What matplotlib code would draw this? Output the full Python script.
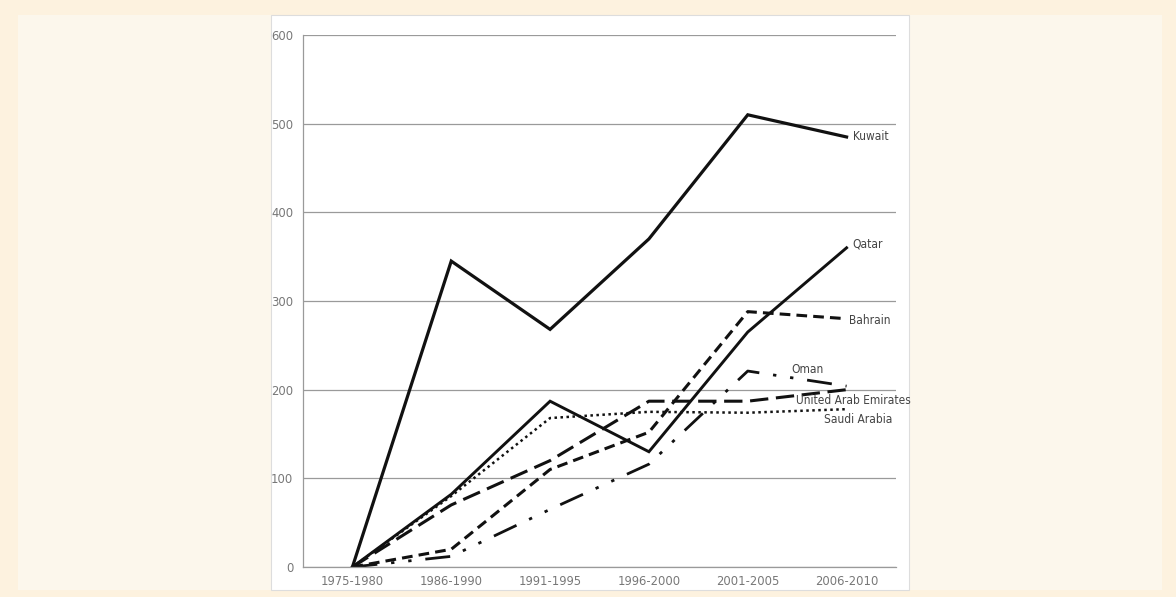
import matplotlib.pyplot as plt
from matplotlib.patches import Rectangle

# data
periods = ["1975-1980", "1986-1990", "1991-1995", "1996-2000", "2001-2005", "2006-2010"]
kuwait = [0, 345, 268, 370, 510, 485]
qatar = [0, 82, 187, 130, 265, 360]
bahrain = [0, 20, 110, 152, 288, 280]
oman = [0, 12, 65, 116, 221, 204]
uae = [0, 70, 120, 187, 187, 200]
saudi = [0, 80, 168, 175, 174, 178]

W, H = 1176, 597
fig = plt.figure(figsize=(W / 100, H / 100), dpi=100)
fig.patch.set_facecolor("#fdf2df")

# background panels (inner cream and white card)
fig.patches.append(Rectangle((18 / W, 7 / H), 1144 / W, 575 / H, transform=fig.transFigure,
                             facecolor="#fcf7ec", edgecolor="none", zorder=-2))
fig.patches.append(Rectangle((271 / W, 7 / H), 638 / W, 575 / H, transform=fig.transFigure,
                             facecolor="white", edgecolor="#dddddd", lw=0.8, zorder=-1))

ax = fig.add_axes([303 / W, 30 / H, 593 / W, 532 / H])
ax.set_facecolor("none")
ax.set_zorder(2)

fnt = dict(family="DejaVu Sans", stretch="condensed")
x = list(range(len(periods)))
black = "#111111"

ax.plot(x, kuwait, color=black, lw=2.3, solid_joinstyle="miter")
ax.plot(x, qatar, color=black, lw=2.1, solid_joinstyle="miter")
ax.plot(x, bahrain, color=black, lw=2.2, linestyle=(0, (3.5, 2)))
ax.plot(x, uae, color=black, lw=2.2, linestyle=(0, (6, 2.5)))
ax.plot(x, oman, color=black, lw=2.0, linestyle=(0, (9, 5, 1.2, 5, 1.2, 5)))
ax.plot(x, saudi, color=black, lw=1.8, linestyle=(0, (1, 1.4)))

ax.set_xlim(-0.5, 5.5)
ax.set_ylim(0, 600)
ax.set_yticks(range(0, 601, 100))
ax.set_xticks(x)
ax.set_xticklabels(periods)
ax.yaxis.grid(True, color="#9a9a9a", lw=0.9)
ax.set_axisbelow(True)
for s in ["top", "right"]:
    ax.spines[s].set_visible(False)
for s in ["left", "bottom"]:
    ax.spines[s].set_color("#9a9a9a")
    ax.spines[s].set_linewidth(0.9)
ax.tick_params(length=0, labelcolor="#777777", labelsize=9.3)
ax.tick_params(axis="y", pad=7)
ax.tick_params(axis="x", pad=6)
for lab in ax.get_xticklabels() + ax.get_yticklabels():
    lab.set_family(fnt["family"])
    lab.set_stretch(fnt["stretch"])

# series labels
lab_kw = dict(color="#444444", fontsize=8.6, clip_on=False, **fnt)
ax.text(5.06, 485, "Kuwait", va="center", ha="left", **lab_kw)
ax.text(5.06, 364, "Qatar", va="center", ha="left", **lab_kw)
ax.text(5.02, 278, "Bahrain", va="center", ha="left", **lab_kw)
ax.text(4.44, 223, "Oman", va="center", ha="left", **lab_kw)
ax.text(4.49, 188, "United Arab Emirates", va="center", ha="left", **lab_kw)
ax.text(4.77, 166, "Saudi Arabia", va="center", ha="left", **lab_kw)

fig.savefig("out.png", dpi=100, facecolor=fig.get_facecolor())
